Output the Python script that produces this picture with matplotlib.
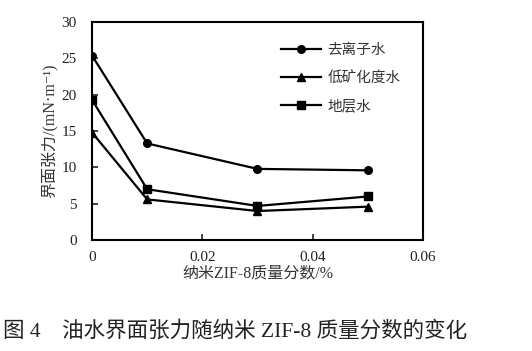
import matplotlib
matplotlib.use("Agg")
import matplotlib.pyplot as plt

plt.rcParams['font.family'] = ['Liberation Serif', 'Noto Sans CJK SC', 'DejaVu Sans']

x = [0, 0.01, 0.03, 0.05]
deionized = [25.4, 13.3, 9.8, 9.6]
low_salinity = [14.8, 5.6, 4.0, 4.6]
formation = [19.3, 7.0, 4.7, 6.0]
labels = ['去离子水', '低矿化度水', '地层水']

fig = plt.figure(figsize=(5.32, 3.51), dpi=100)
ax = fig.add_axes([0.173, 0.316, 0.622, 0.621])
ax.plot(x, deionized, '-o', color='black', lw=1.6, ms=5.5, label=labels[0])
ax.plot(x, low_salinity, '-^', color='black', lw=1.6, ms=5.5, label=labels[1])
ax.plot(x, formation, '-s', color='black', lw=1.6, ms=5.5, label=labels[2])

ax.set_xlim(0, 0.06)
ax.set_ylim(0, 30)
ax.set_xticks([0, 0.02, 0.04, 0.06])
ax.set_xticklabels(['0', '0.02', '0.04', '0.06'])
ax.set_yticks([0, 5, 10, 15, 20, 25, 30])
ax.tick_params(direction='in', labelsize=11, length=4, width=1.2, colors='#222222')
ax.tick_params(axis='y', pad=11)
ax.tick_params(axis='x', pad=8)
for s in ax.spines.values():
    s.set_linewidth(1.5)
ax.set_xlabel('纳米ZIF-8质量分数/%', fontsize=11.5, color='#333333', labelpad=1)
ax.set_ylabel('界面张力/(mN·m⁻¹)', fontsize=11.5, color='#333333', labelpad=3)

leg = ax.legend(loc='upper left', bbox_to_anchor=(0.53, 0.96), frameon=False,
                fontsize=10.5, handlelength=2.8, labelspacing=0.95, handletextpad=0.4)
for t in leg.get_texts():
    t.set_color('#333333')

fig.text(0.005, 0.055, '图 4　油水界面张力随纳米 ZIF-8 质量分数的变化', fontsize=15.5,
         color='#222222', ha='left', va='center')

fig.savefig('out.png', dpi=100)
